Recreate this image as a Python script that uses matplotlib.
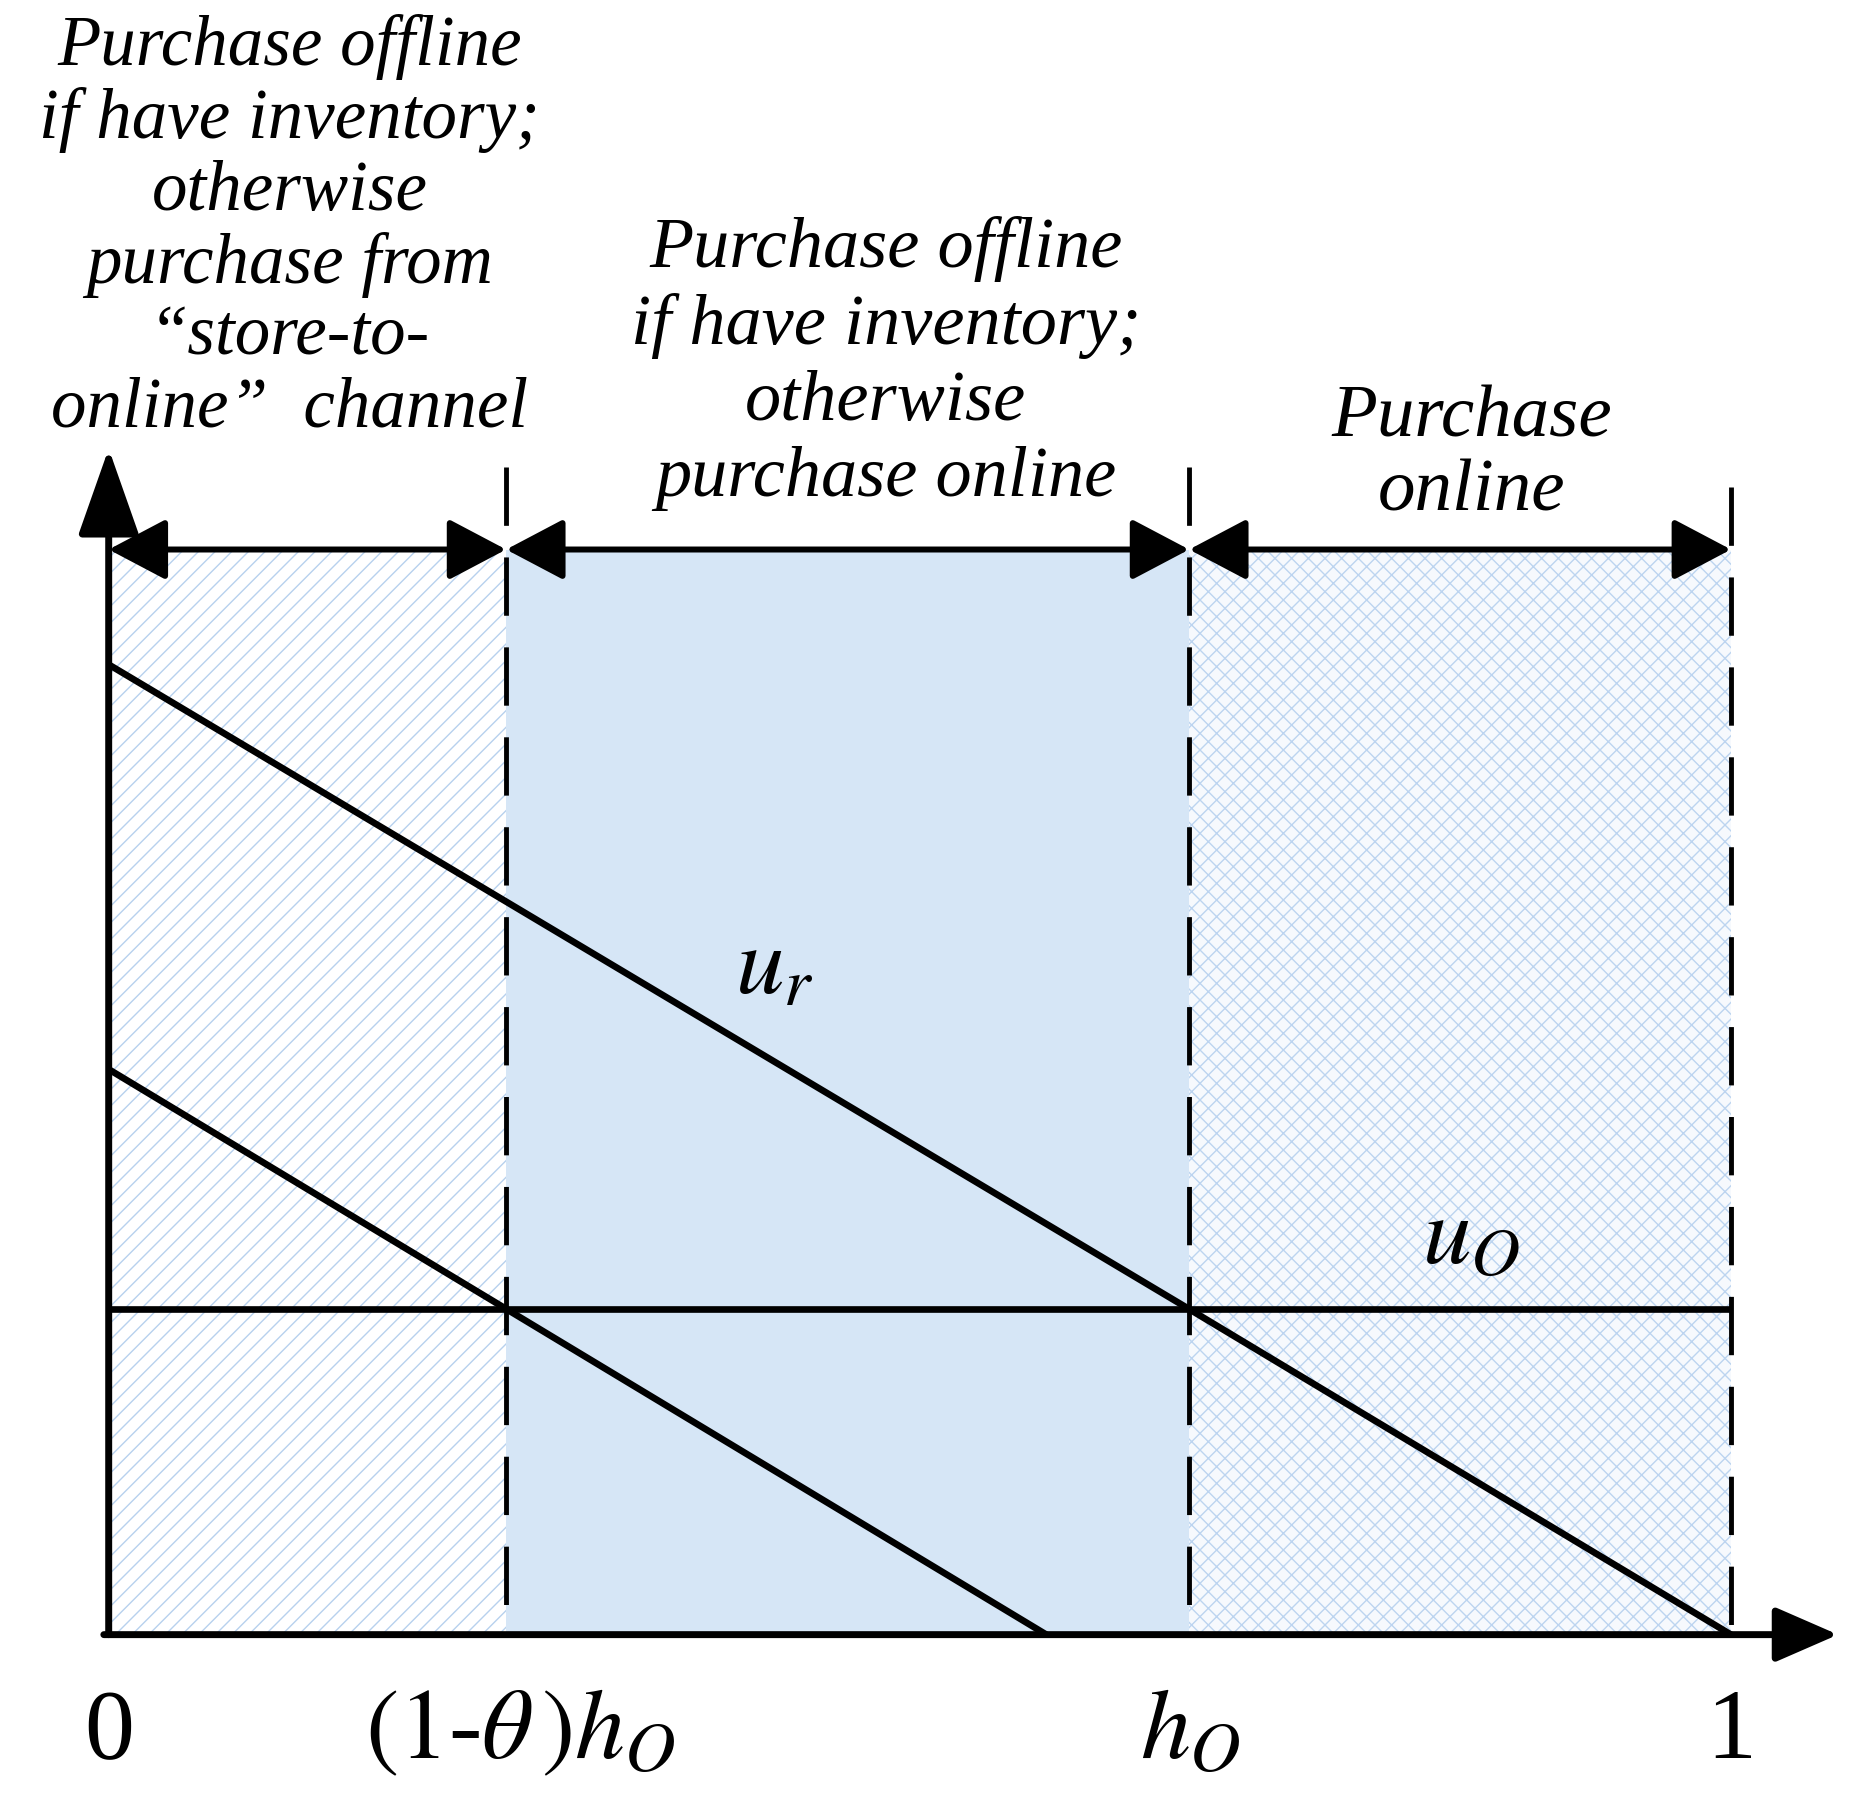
import matplotlib
matplotlib.use("Agg")
import matplotlib.pyplot as plt

plt.rcParams['mathtext.fontset'] = 'stix'
plt.rcParams['font.family'] = ['Liberation Serif', 'DejaVu Serif']
plt.rcParams['hatch.linewidth'] = 1.0

# ---- data ----
boundaries = [0.0, 0.245, 0.666, 1.0]
region_top = 1.0
dash_tops = [1.076, 1.076, 1.058]
ur_x = [0.0, 0.666]
ur_y = [0.894, 0.30]
low_x = [0.0, 0.578]
low_y = [0.521, 0.0]
right_x = [0.666, 1.0]
right_y = [0.30, 0.0]
uo_x = [0.0, 1.0]
uo_y = [0.30, 0.30]
yaxis_top = 1.093
xaxis_end = 1.066

tick_pos = [0.0, 0.254, 0.667, 1.0]
tick_labels = ["0", r"$(\mathit{1}$-$\mathit{\theta}\,)h_O$", r"$h_O$", "1"]

left_text = ["Purchase offline", "if have inventory;", "otherwise",
             "purchase from", "\u201cstore-to-", "online\u201d  channel"]
mid_text = ["Purchase offline", "if have inventory;", "otherwise",
            "purchase online"]
right_text = ["Purchase", "online"]

region_face = ['white', '#d6e6f6', '#f6f9fd']
region_hatch = ['//', None, 'xx']
region_hatch_color = ['#b7d1ee', '#d6e6f6', '#bcd4f0']

fig = plt.figure(figsize=(18.53, 18.05), dpi=100)
ax = fig.add_axes([0, 0, 1, 1])
ax.set_xlim(-0.067, 1.0752)
ax.set_ylim(-0.157, 1.5064)
ax.axis('off')

# shaded regions
for i in range(3):
    ax.fill_between([boundaries[i], boundaries[i + 1]], 0, region_top,
                    facecolor=region_face[i], hatch=region_hatch[i],
                    edgecolor=region_hatch_color[i], linewidth=0, zorder=1)

# lines
for xs, ys in [(ur_x, ur_y), (low_x, low_y), (right_x, right_y), (uo_x, uo_y)]:
    ax.plot(xs, ys, color='black', lw=4.8, solid_capstyle='butt', zorder=3)

# dashed vertical boundaries
for b, t in zip(boundaries[1:], dash_tops):
    ax.plot([b, b], [t, 0], color='black', lw=3.5, ls=(0, (12, 6.5)), zorder=3)

# axes with arrows
ax.annotate('', xy=(0, yaxis_top), xytext=(0, 0),
            arrowprops=dict(arrowstyle='-|>,head_length=5.4,head_width=1.9',
                            mutation_scale=10, lw=5, color='black',
                            shrinkA=0, shrinkB=0), zorder=4)
ax.annotate('', xy=(xaxis_end, 0), xytext=(-0.003, 0),
            arrowprops=dict(arrowstyle='-|>,head_length=3.9,head_width=1.7',
                            mutation_scale=10, lw=5, color='black',
                            shrinkA=0, shrinkB=0), zorder=4)

# double arrows over regions
for i in range(3):
    ax.annotate('', xy=(boundaries[i + 1], region_top), xytext=(boundaries[i], region_top),
                arrowprops=dict(arrowstyle='<|-|>,head_length=3.6,head_width=1.9',
                                mutation_scale=10, lw=4.3, color='black',
                                shrinkA=0, shrinkB=0), zorder=4)

# region texts (anchored at the last line's baseline)
ax.text(0.1115, 1.113, "\n".join(left_text), ha='center', va='baseline',
        fontsize=51, style='italic', linespacing=1.14)
ax.text(0.479, 1.049, "\n".join(mid_text), ha='center', va='baseline',
        fontsize=52, style='italic', linespacing=1.22)
ax.text(0.840, 1.036, "\n".join(right_text), ha='center', va='baseline',
        fontsize=54, style='italic', linespacing=1.12)

# curve labels
ax.text(0.41, 0.613, r"$u_r$", ha='center', va='center', fontsize=70)
ax.text(0.84, 0.363, r"$u_O$", ha='center', va='center', fontsize=70)

# tick labels
for p, lab in zip(tick_pos, tick_labels):
    ax.text(p, -0.114, lab, ha='center', va='baseline', fontsize=72)

fig.savefig('out.png', dpi=100)
